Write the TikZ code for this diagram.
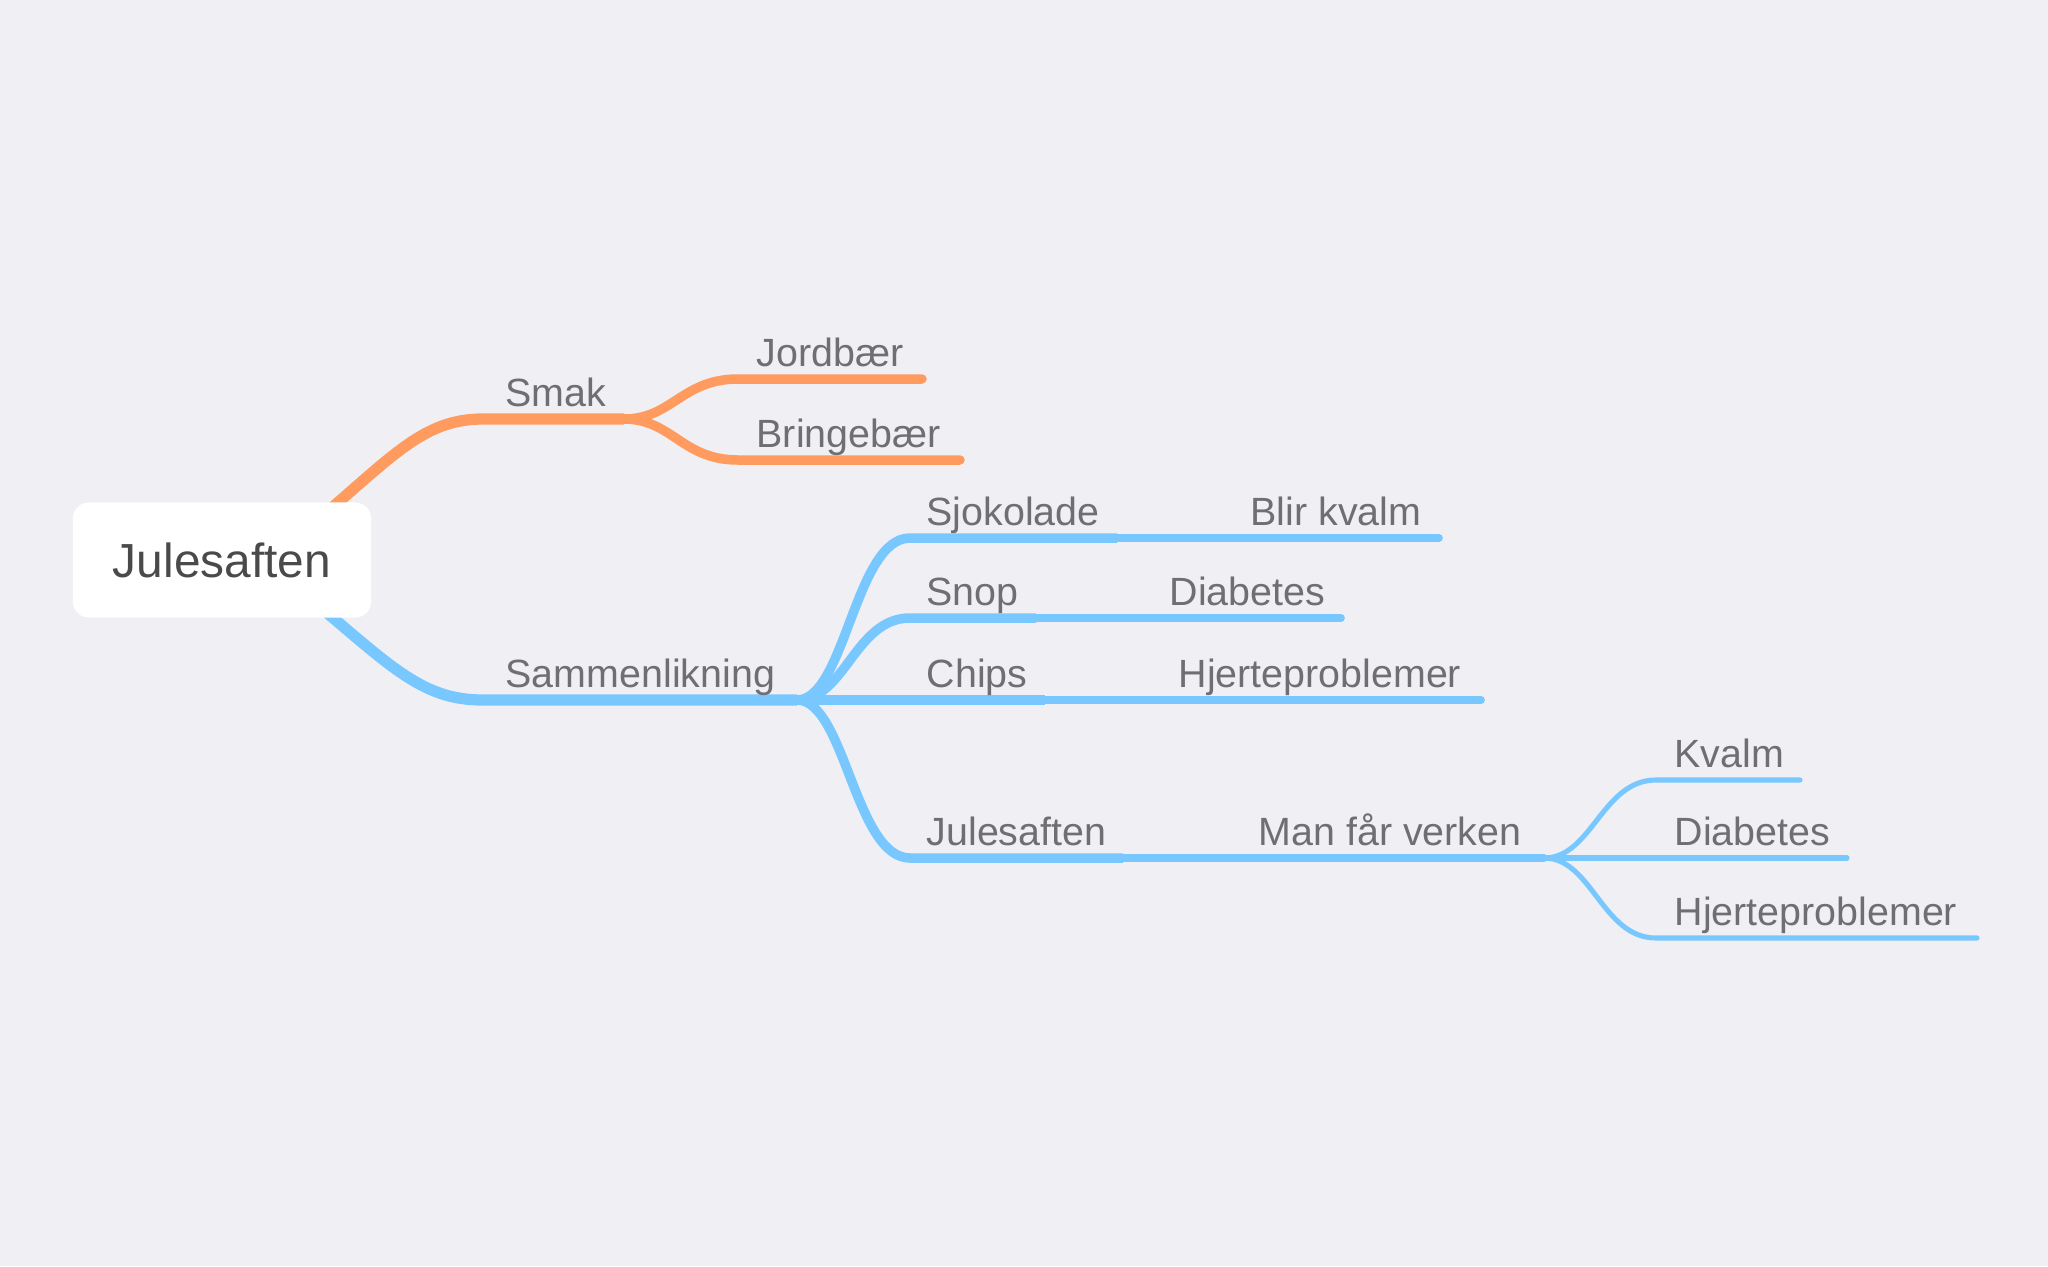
\documentclass[tikz,border=0pt]{standalone}
\usepackage{fontspec}
\setmainfont{Liberation Sans}
\pgfdeclarelayer{bg}
\pgfdeclarelayer{lines}
\pgfsetlayers{bg,lines,main}
\definecolor{bgc}{HTML}{EFEFF4}
\definecolor{orangec}{HTML}{FF9B5E}
\definecolor{bluec}{HTML}{78C8FF}
\definecolor{txt}{HTML}{6E6E73}
\definecolor{roottxt}{HTML}{4A4A4A}
\begin{document}
\begin{tikzpicture}[x=0.01cm,y=-0.01cm,
  lbl/.style={anchor=base west, inner sep=0pt, text=txt, font=\fontsize{11.2pt}{13pt}\selectfont},
  rootbox/.style={fill=white, rounded corners=4.5pt, minimum width=2.98cm, minimum height=1.15cm, inner sep=0pt, text=roottxt, font=\fontsize{13.6pt}{16pt}\selectfont},
  lvlone/.style={line width=3.2pt, line cap=butt},
  lvltwo/.style={line width=2.7pt, line cap=round},
  lvltwob/.style={line width=2.7pt, line cap=butt},
  lvlthree/.style={line width=2.2pt, line cap=round},
  lvlfour/.style={line width=1.45pt, line cap=round}]
\begin{pgfonlayer}{bg}
  \fill[bgc] (0,0) rectangle (2048,1266);
\end{pgfonlayer}
\useasboundingbox (0,0) rectangle (2048,1266);

% root
\node[rootbox] (root) at (222,560) {Julesaften};

% coordinates
\coordinate (ro) at (300,535);
\coordinate (rb) at (300,590);
\coordinate (smakA) at (483,419);
\coordinate (smakB) at (624,419);
\coordinate (jordA) at (738,379);
\coordinate (jordB) at (922,379);
\coordinate (brinA) at (738,460);
\coordinate (brinB) at (960,460);
\coordinate (samA) at (483,700);
\coordinate (samB) at (797,700);
\coordinate (sjoA) at (910,538);
\coordinate (sjoB) at (1117,538);
\coordinate (blirB) at (1439,538);
\coordinate (snoA) at (910,618);
\coordinate (snoB) at (1036,618);
\coordinate (diaB) at (1341,618);
\coordinate (chiB) at (1045,700);
\coordinate (hjeB) at (1481,700);
\coordinate (julA) at (910,858);
\coordinate (julB) at (1123,858);
\coordinate (manB) at (1544,858);
\coordinate (kvaA) at (1656,780);
\coordinate (kvaB) at (1800,780);
\coordinate (dibB) at (1847,858);
\coordinate (hjbA) at (1656,938);
\coordinate (hjbB) at (1977,938);

\begin{pgfonlayer}{lines}
  % orange branch
  \draw[lvlone, orangec] (ro) .. controls (390,460) and (420,419) .. (smakA) -- (smakB);
  \draw[lvltwo, orangec] (smakB) .. controls (672,419) and (682,379) .. (jordA) -- (jordB);
  \draw[lvltwo, orangec] (smakB) .. controls (672,419) and (682,460) .. (brinA) -- (brinB);
  % blue branch
  \draw[lvlone, bluec] (rb) .. controls (390,665) and (420,700) .. (samA) -- (samB);
  \draw[lvltwob, bluec] (samB) .. controls (845,700) and (855,538) .. (sjoA) -- (sjoB);
  \draw[lvlthree, bluec] (sjoB) -- (blirB);
  \draw[lvltwob, bluec] (samB) .. controls (845,700) and (855,618) .. (snoA) -- (snoB);
  \draw[lvlthree, bluec] (snoB) -- (diaB);
  \draw[lvltwob, bluec] (samB) -- (chiB);
  \draw[lvlthree, bluec] (chiB) -- (hjeB);
  \draw[lvltwob, bluec] (samB) .. controls (845,700) and (855,858) .. (julA) -- (julB);
  \draw[lvlthree, bluec] (julB) -- (manB);
  \draw[lvlfour, bluec] (manB) .. controls (1592,858) and (1602,780) .. (kvaA) -- (kvaB);
  \draw[lvlfour, bluec] (manB) -- (dibB);
  \draw[lvlfour, bluec] (manB) .. controls (1592,858) and (1602,938) .. (hjbA) -- (hjbB);
\end{pgfonlayer}

% labels
\node[lbl] (smak) at (505,406) {Smak};
\node[lbl] (sam) at (505,687) {Sammenlikning};
\node[lbl] (jord) at (756,366) {Jordbær};
\node[lbl] (brin) at (756,447) {Bringebær};
\node[lbl] (sjo) at (926,525) {Sjokolade};
\node[lbl] (blir) at (1250,525) {Blir kvalm};
\node[lbl] (sno) at (926,605) {Snop};
\node[lbl] (dia) at (1169,605) {Diabetes};
\node[lbl] (chi) at (926,687) {Chips};
\node[lbl] (hje) at (1178,687) {Hjerteproblemer};
\node[lbl] (jul) at (926,845) {Julesaften};
\node[lbl] (man) at (1258,845) {Man får verken};
\node[lbl] (kva) at (1674,767) {Kvalm};
\node[lbl] (dib) at (1674,845) {Diabetes};
\node[lbl] (hjb) at (1674,925) {Hjerteproblemer};
\end{tikzpicture}
\end{document}
